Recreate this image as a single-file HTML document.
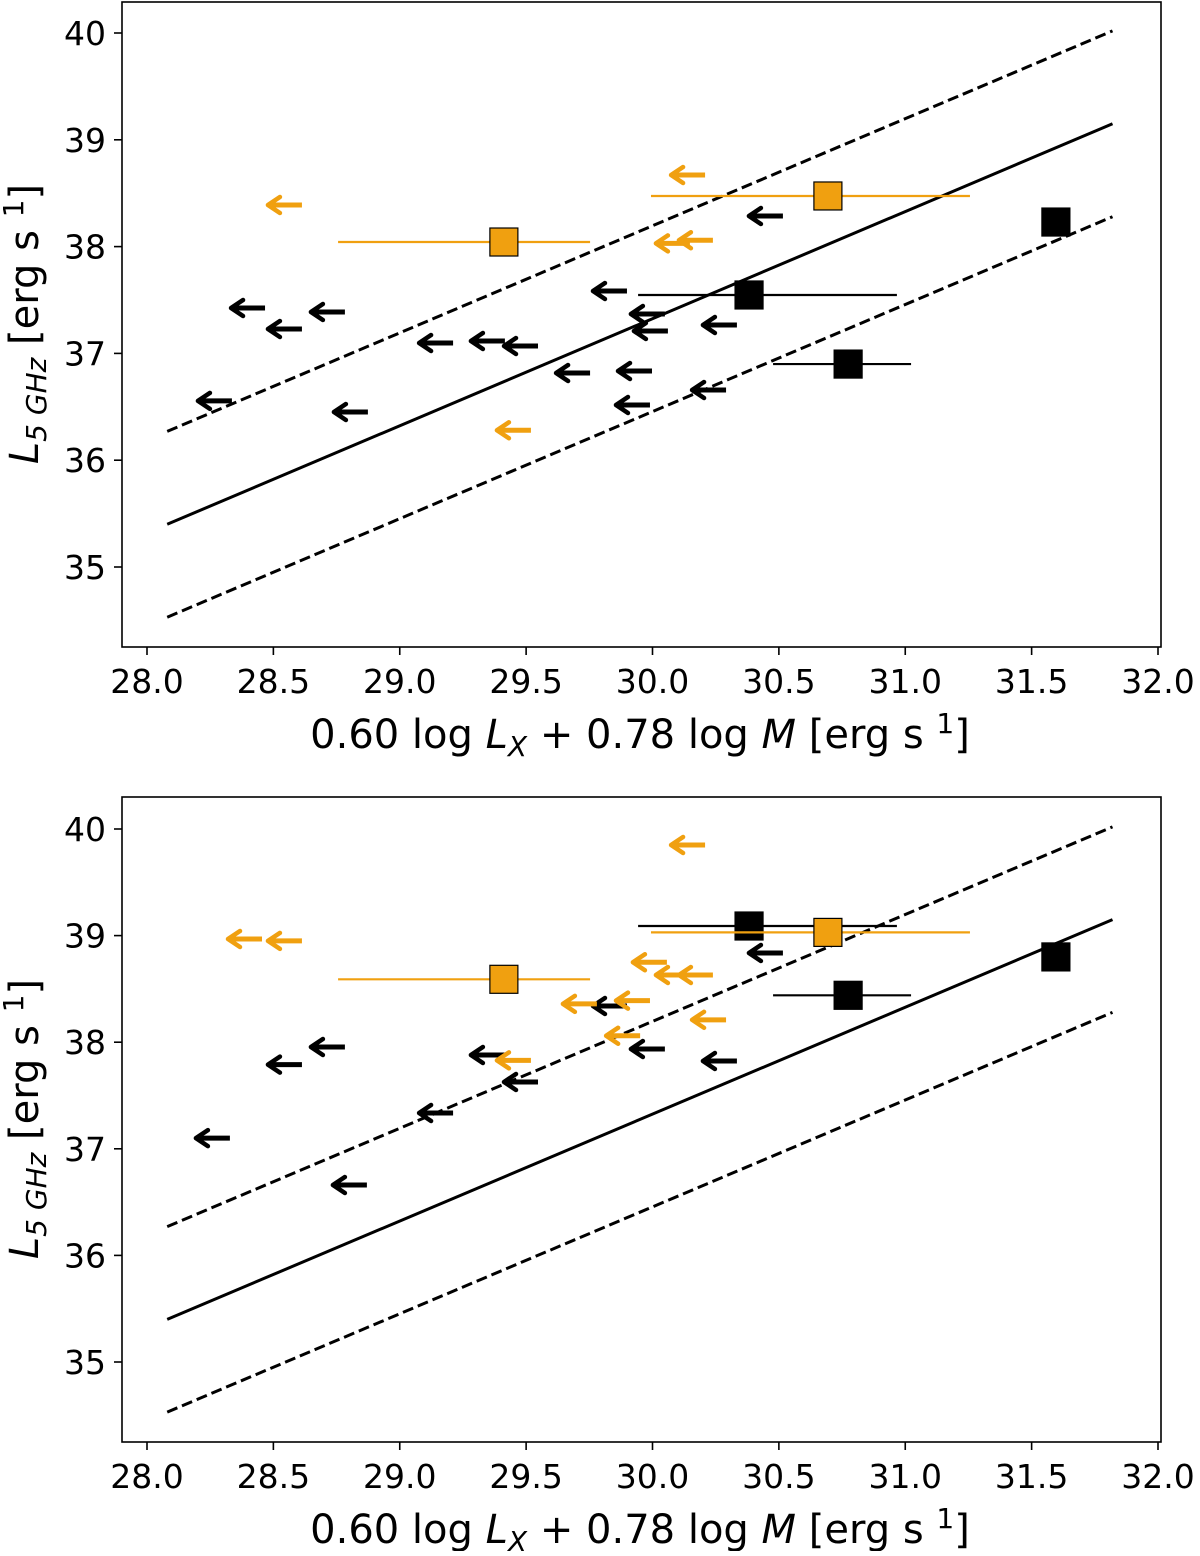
<!DOCTYPE html>
<html><head><meta charset="utf-8"><style>
body{margin:0;background:#fff}
svg text{font-family:"DejaVu Sans","Liberation Sans",sans-serif;fill:#000}
</style></head><body>
<svg id="chart" width="1200" height="1551" xmlns="http://www.w3.org/2000/svg"></svg>
<script>
const xTicks=[28.0,28.5,29.0,29.5,30.0,30.5,31.0,31.5,32.0];
const yTicks=[35,36,37,38,39,40];
const fitX=[28.08,31.82];
const fitY=[35.4,39.15];
const scatter=0.87;
// top panel
const topBlackArrowX=[28.336,28.467,28.613,28.783,28.874,29.211,29.416,29.547,29.753,29.899,30.049,30.061,29.990,29.998,30.291,30.334,30.516];
const topBlackArrowY=[36.555,37.425,37.228,37.388,36.451,37.097,37.116,37.069,36.816,37.584,37.369,37.21,36.517,36.835,36.657,37.266,38.287];
const topOrangeArrowX=[28.613,29.519,30.208,30.148,30.239];
const topOrangeArrowY=[38.39,36.28,38.67,38.03,38.06];
const topBlackSqX=[30.382,30.774,31.596];
const topBlackSqY=[37.547,36.9,38.23];
const topOrangeSqX=[29.412,30.694];
const topOrangeSqY=[38.043,38.474];
// bottom panel
const botBlackArrowX=[28.328,28.613,28.783,28.870,29.211,29.416,29.547,29.899,30.049,30.334,30.516];
const botBlackArrowY=[37.10,37.79,37.955,36.66,37.336,37.88,37.627,38.34,37.936,37.824,38.837];
const botOrangeArrowX=[28.455,28.613,29.519,30.208,29.780,29.990,30.057,30.148,30.239,29.951,30.291];
const botOrangeArrowY=[38.968,38.95,37.83,39.85,38.36,38.39,38.75,38.63,38.63,38.06,38.21];
const botBlackSqX=[30.382,30.774,31.596];
const botBlackSqY=[39.09,38.44,38.8];
const botOrangeSqX=[29.412,30.694];
const botOrangeSqY=[38.59,39.03];
// x error bars (lo, hi) shared by both panels
const blackErrLo=[29.943,30.477,31.596];
const blackErrHi=[30.967,31.023,31.596];
const orangeErrLo=[28.756,29.994];
const orangeErrHi=[29.753,31.256];

const ORANGE="#f0a010";
const svg=document.getElementById('chart');
const NS="http://www.w3.org/2000/svg";
function mk(tag,attrs,parent){const e=document.createElementNS(NS,tag);for(const k in attrs)e.setAttribute(k,attrs[k]);(parent||svg).appendChild(e);return e;}

function panel(name,top,y40,pxPerY,bA,bAy,oA,oAy,bS,bSy,oS,oSy){
  const g=mk('g',{});
  
  
  const xp=v=>147+(v-28)*252.75;
  const yp=v=>y40+(40-v)*pxPerY;
  const L=122,R=1161,B=top+645;
  const frame=mk('rect',{x:L,y:top,width:R-L,height:B-top,fill:'none',stroke:'#000','stroke-width':1.6},g);
  
  
  xTicks.forEach(t=>{
    mk('line',{x1:xp(t),x2:xp(t),y1:B,y2:B+8,stroke:'#000','stroke-width':1.6},g);
    const tx=mk('text',{x:xp(t),y:B+46,'font-size':33,'text-anchor':'middle'},g);
    tx.textContent=t.toFixed(1);
    
    
  });
  yTicks.forEach(t=>{
    mk('line',{x1:L-8,x2:L,y1:yp(t),y2:yp(t),stroke:'#000','stroke-width':1.6},g);
    const tx=mk('text',{x:L-16,y:yp(t)+12,'font-size':33,'text-anchor':'end'},g);
    tx.textContent=t;
    
    
  });
  const xl=mk('text',{x:640,y:B+101,'font-size':40,'text-anchor':'middle'},g);
  xl.innerHTML='0.60 log<tspan font-style="italic"> L</tspan><tspan font-style="italic" font-size="28" dy="8">X</tspan><tspan dy="-8"> + 0.78 log </tspan><tspan font-style="italic">M</tspan> [erg s <tspan font-size="28" dy="-15">  1</tspan><tspan dy="15">]</tspan>';
  
  
  const yl=mk('text',{transform:`translate(38,${top+322}) rotate(-90)`,'font-size':40,'text-anchor':'middle'},g);
  yl.innerHTML='<tspan font-style="italic">L</tspan><tspan font-style="italic" font-size="28" dy="8">5 GHz</tspan><tspan dy="-8">  [erg s </tspan><tspan font-size="28" dy="-15">  1</tspan><tspan dy="15">]</tspan>';
  
  
  const fit=mk('line',{x1:xp(fitX[0]),y1:yp(fitY[0]),x2:xp(fitX[1]),y2:yp(fitY[1]),stroke:'#000','stroke-width':3},g);
  
  
  [scatter,-scatter].forEach(d=>{
    const l=mk('line',{x1:xp(fitX[0]),y1:yp(fitY[0]+d),x2:xp(fitX[1]),y2:yp(fitY[1]+d),stroke:'#000','stroke-width':3,'stroke-dasharray':'11,5'},g);
    
    
  });
  function arrows(X,Y,col,nm){
    X.forEach((v,i)=>{
      const x=xp(v),y=yp(Y[i]);
      const a=mk('g',{},g);
      
      
      mk('line',{x1:x,y1:y,x2:x-30,y2:y,stroke:col,'stroke-width':5},a);
      mk('path',{d:`M${x-22},${y-8} L${x-34},${y} L${x-22},${y+8}`,fill:'none',stroke:col,'stroke-width':4.5,'stroke-linecap':'round','stroke-linejoin':'round'},a);
    });
  }
  arrows(bA,bAy,'#000','upper-limit-black');
  arrows(oA,oAy,ORANGE,'upper-limit-orange');
  function squares(X,Y,lo,hi,col,nm){
    X.forEach((v,i)=>{
      const x=xp(v),y=yp(Y[i]);
      const s=mk('g',{},g);
      
      
      mk('line',{x1:xp(lo[i]),x2:xp(hi[i]),y1:y,y2:y,stroke:col,'stroke-width':2.2},s);
      mk('rect',{x:x-14,y:y-14,width:28,height:28,fill:col,stroke:'#000','stroke-width':1.2},s);
    });
  }
  squares(bS,bSy,blackErrLo,blackErrHi,'#000','detection-black');
  squares(oS,oSy,orangeErrLo,orangeErrHi,ORANGE,'detection-orange');
}
panel('top-panel',2,33,106.8,topBlackArrowX,topBlackArrowY,topOrangeArrowX,topOrangeArrowY,topBlackSqX,topBlackSqY,topOrangeSqX,topOrangeSqY);
panel('bottom-panel',797,829,106.6,botBlackArrowX,botBlackArrowY,botOrangeArrowX,botOrangeArrowY,botBlackSqX,botBlackSqY,botOrangeSqX,botOrangeSqY);
</script>
</body></html>
